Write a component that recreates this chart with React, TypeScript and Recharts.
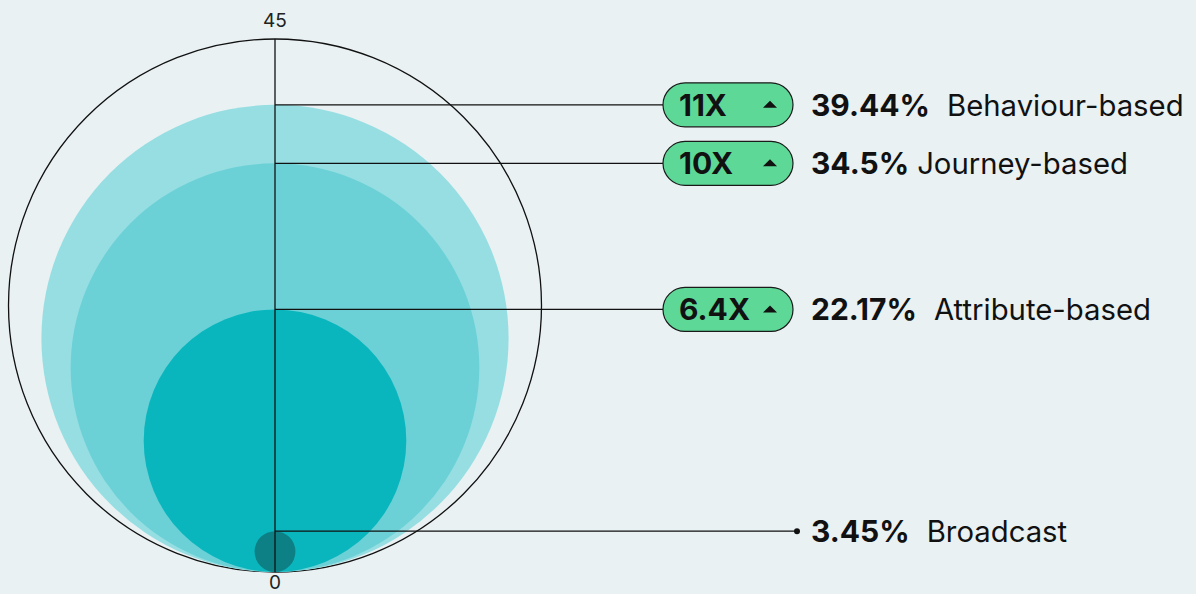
import React from 'react';
import { ScatterChart, Scatter, XAxis, YAxis } from 'recharts';

// segments, largest first so the smaller bubbles sit on top
const segments = ['Behaviour-based', 'Journey-based', 'Attribute-based', 'Broadcast'];
const shares = [39.44, 34.5, 22.17, 3.45];
const uplift = ['11X', '10X', '6.4X', ''];
const shareLabels = ['39.44%', '34.5%', '22.17%', '3.45%'];
const axisTicks = [0, 45];

const W = 1196;
const H = 594;
const MARGIN = { top: 39, right: 20, bottom: 22, left: 215 };
const PLOT_BOTTOM = H - MARGIN.bottom;

const FILLS = ['#96dee2', '#6bd1d6', '#0ab6be', '#0d8086'];
const FONT = 'Inter, "Noto Sans", sans-serif';

const data = segments.map((name, i) => ({
  name,
  x: 0,
  y: shares[i],
  uplift: uplift[i],
  pct: shareLabels[i],
  fill: FILLS[i],
  gap: name === 'Journey-based' ? 8 : 17,
}));

const outer = [{ x: 0, y: axisTicks[1] }];

// bubble sitting on the 0 baseline, top touching its value
function Bubble(props: any) {
  const { cx, cy, payload } = props;
  const r = (PLOT_BOTTOM - cy) / 2;
  return <circle cx={cx} cy={cy + r} r={r} fill={payload.fill} />;
}

function Outline(props: any) {
  const { cx, cy } = props;
  const r = (PLOT_BOTTOM - cy) / 2;
  return <circle cx={cx} cy={cy + r} r={r} fill="none" stroke="#111" strokeWidth={1.3} />;
}

// vertical 0..45 line, drawn over the bubbles
function Spine(props: any) {
  const { cx, cy } = props;
  return <line x1={cx} y1={cy} x2={cx} y2={PLOT_BOTTOM} stroke="#111" strokeWidth={1.3} />;
}

function Callout(props: any) {
  const { cx, cy, payload } = props;
  const pillX = 663;
  const pillW = 130;
  const pillH = 44;
  const textX = 811;
  const hasPill = !!payload.uplift;
  const lineEnd = hasPill ? pillX : 797;
  return (
    <g>
      <line x1={cx} y1={cy} x2={lineEnd} y2={cy} stroke="#111" strokeWidth={1.3} />
      {hasPill ? (
        <g>
          <rect
            x={pillX}
            y={cy - pillH / 2}
            width={pillW}
            height={pillH}
            rx={pillH / 2}
            fill="#5dd897"
            stroke="#1a1a1a"
            strokeWidth={1.2}
          />
          <text x={pillX + 16} y={cy + 11} fontFamily={FONT} fontSize={30} fontWeight={700} fill="#111">
            {payload.uplift}
          </text>
          <path d={`M${pillX + 100},${cy + 3} l7,-7 l7,7 z`} fill="#111" />
        </g>
      ) : (
        <circle cx={lineEnd} cy={cy} r={3} fill="#111" />
      )}
      <text x={textX} y={cy + 11} fontFamily={FONT} fontSize={30} fill="#111">
        <tspan fontWeight={700}>{payload.pct}</tspan>
        <tspan dx={payload.gap} fontSize={29.3}>{payload.name}</tspan>
      </text>
    </g>
  );
}

function AxisTick(props: any) {
  const { x, y, payload } = props;
  const top = payload.value === axisTicks[1];
  return (
    <text
      x={x}
      y={top ? y - 12 : y + 17}
      textAnchor="middle"
      style={{ fontFamily: FONT, fontSize: 19, fill: '#222' }}
    >
      {payload.value}
    </text>
  );
}

export default function App() {
  return (
    <div style={{ position: 'fixed', top: 0, left: 0, width: W, height: H, background: '#e9f1f3' }}>
      <ScatterChart width={W} height={H} margin={MARGIN}>
        <XAxis type="number" dataKey="x" domain={[0, 1]} hide />
        <YAxis
          type="number"
          dataKey="y"
          domain={[0, 45]}
          ticks={axisTicks}
          width={60}
          tickLine={false}
          tickSize={0}
          tickMargin={0}
          axisLine={false}
          tick={(p: any) => <AxisTick {...p} />}
        />
        <Scatter data={outer} shape={<Outline />} isAnimationActive={false} />
        <Scatter data={data} shape={<Bubble />} isAnimationActive={false} />
        <Scatter data={outer} shape={<Spine />} isAnimationActive={false} />
        <Scatter data={data} shape={<Callout />} isAnimationActive={false} />
      </ScatterChart>
    </div>
  );
}
